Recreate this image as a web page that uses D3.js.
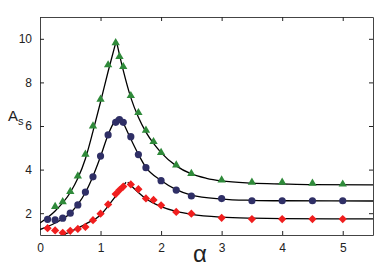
<!DOCTYPE html>
<meta charset="utf-8">
<style>
body { margin: 0; background: #fff; }
text { font-family: "Liberation Sans", Arial, sans-serif; }
</style>
<svg></svg>
<script src="https://d3js.org/d3.v7.min.js"></script>
<script>

// measured points (alpha, A_s)
var triX = [0.25,0.375,0.5,0.625,0.75,0.875,1.0,1.125,1.25,1.3125,1.375,1.5,1.625,1.75,1.875,2.0,2.25,2.5,3,3.5,4,4.5,5];
var triY = [2.30,2.52,2.99,3.70,4.70,6.00,7.22,8.80,9.82,9.18,8.72,7.39,6.61,5.80,5.28,4.78,4.21,3.82,3.52,3.42,3.42,3.37,3.33];

var dotX = [0.125,0.25,0.375,0.5,0.625,0.75,0.875,1.0,1.125,1.25,1.3125,1.375,1.5,1.625,1.75,2.0,2.25,2.5,3,3.5,4,4.5,5];
var dotY = [1.72,1.69,1.77,2.00,2.38,2.97,3.67,4.62,5.59,6.17,6.29,6.17,5.51,4.69,4.09,3.49,3.06,2.79,2.67,2.57,2.57,2.57,2.57];

var diaX = [0.125,0.25,0.375,0.5,0.625,0.75,0.875,1.0,1.125,1.25,1.3125,1.375,1.5,1.625,1.75,1.875,2.0,2.25,2.5,3,3.5,4,4.5,5];
var diaY = [1.31,1.21,1.10,1.19,1.28,1.37,1.68,1.98,2.40,2.88,3.06,3.22,3.32,3.10,2.68,2.61,2.36,2.06,1.98,1.79,1.73,1.73,1.73,1.73];

// fitted curves, two branches each
var fitTriLeftX  = [0,0.25,0.5,0.625,0.75,0.875,1.0,1.125,1.26];
var fitTriLeftY  = [1.55,2.10,2.95,3.60,4.50,5.75,7.10,8.50,9.92];
var fitTriRightX = [1.26,1.375,1.5,1.625,1.75,1.875,2.0,2.25,2.5,2.75,3,3.5,4,4.5,5.5];
var fitTriRightY = [9.92,8.55,7.30,6.40,5.72,5.20,4.78,4.17,3.80,3.60,3.48,3.38,3.34,3.31,3.30];

var fitDotLeftX  = [0,0.25,0.5,0.625,0.75,0.875,1.0,1.125,1.25,1.29];
var fitDotLeftY  = [1.25,1.55,2.00,2.40,2.95,3.70,4.60,5.60,6.30,6.40];
var fitDotRightX = [1.33,1.4,1.5,1.625,1.75,2.0,2.25,2.5,3,3.5,4,5.5];
var fitDotRightY = [6.40,6.00,5.40,4.70,4.10,3.50,3.08,2.83,2.65,2.59,2.57,2.56];

var fitDiaLeftX  = [0,0.25,0.375,0.5,0.75,1.0,1.125,1.25,1.42];
var fitDiaLeftY  = [0.55,0.80,0.98,1.15,1.50,1.92,2.33,2.78,3.42];
var fitDiaRightX = [1.45,1.625,1.75,2.0,2.25,2.5,3,3.5,4,5.5];
var fitDiaRightY = [3.42,2.95,2.66,2.30,2.08,1.95,1.82,1.77,1.75,1.74];

var xTicks = [0,1,2,3,4,5];
var yTicks = [2,4,6,8,10];

var W = 386, H = 270;
var svg = d3.select("svg").attr("width", W).attr("height", H);

var margin = {left: 40, right: 13, top: 17, bottom: 35};
var x = d3.scaleLinear().domain([0, 5.5]).range([margin.left, W - margin.right]);
var y = d3.scaleLinear().domain([1, 11]).range([H - margin.bottom, margin.top]);

svg.append("defs").append("clipPath").attr("id", "plot")
  .append("rect")
  .attr("x", x(0)).attr("y", y(11))
  .attr("width", x(5.5) - x(0)).attr("height", y(1) - y(11));

// axes, ticks pointing inward
svg.append("g").attr("transform", "translate(0," + y(1) + ")")
  .call(d3.axisBottom(x).tickValues(xTicks).tickSizeInner(-4).tickSizeOuter(0).tickPadding(8).tickFormat(d3.format("d")));
svg.append("g").attr("transform", "translate(0," + y(11) + ")")
  .call(d3.axisTop(x).tickValues(xTicks).tickSizeInner(-4).tickSizeOuter(0).tickFormat(""));
svg.append("g").attr("transform", "translate(" + x(0) + ",0)")
  .call(d3.axisLeft(y).tickValues(yTicks).tickSizeInner(-4).tickSizeOuter(0).tickPadding(8).tickFormat(d3.format("d")));
svg.append("g").attr("transform", "translate(" + x(5.5) + ",0)")
  .call(d3.axisRight(y).tickValues(yTicks).tickSizeInner(-4).tickSizeOuter(0).tickFormat(""));

svg.selectAll(".domain").attr("stroke", "#444").attr("stroke-width", 1);
svg.selectAll(".tick line").attr("stroke", "#222");
svg.selectAll(".tick text").attr("font-size", 12).attr("fill", "#222");

// fitted curves
var line = d3.line()
  .x(function(d) { return x(d[0]); })
  .y(function(d) { return y(d[1]); })
  .curve(d3.curveMonotoneX);

function zip(a, b) { return a.map(function(v, i) { return [v, b[i]]; }); }

var fits = [
  zip(fitTriLeftX, fitTriLeftY), zip(fitTriRightX, fitTriRightY),
  zip(fitDotLeftX, fitDotLeftY), zip(fitDotRightX, fitDotRightY),
  zip(fitDiaLeftX, fitDiaLeftY), zip(fitDiaRightX, fitDiaRightY)
];

svg.append("g").attr("clip-path", "url(#plot)")
  .selectAll("path")
  .data(fits)
  .enter().append("path")
  .attr("d", line)
  .attr("fill", "none")
  .attr("stroke", "#000")
  .attr("stroke-width", 1.3);

// markers
var marks = svg.append("g").attr("clip-path", "url(#plot)");

marks.selectAll(".tri")
  .data(zip(triX, triY))
  .enter().append("path")
  .attr("class", "tri")
  .attr("d", d3.symbol().type(d3.symbolTriangle).size(30))
  .attr("transform", function(d) { return "translate(" + x(d[0]) + "," + y(d[1]) + ")"; })
  .attr("fill", "#2f8a3a");

marks.selectAll(".dot")
  .data(zip(dotX, dotY))
  .enter().append("circle")
  .attr("class", "dot")
  .attr("cx", function(d) { return x(d[0]); })
  .attr("cy", function(d) { return y(d[1]); })
  .attr("r", 3.6)
  .attr("fill", "#2f2f66");

// square turned 45 degrees gives the wide diamond of the original
marks.selectAll(".dia")
  .data(zip(diaX, diaY))
  .enter().append("path")
  .attr("class", "dia")
  .attr("d", d3.symbol().type(d3.symbolSquare).size(34))
  .attr("transform", function(d) { return "translate(" + x(d[0]) + "," + y(d[1]) + ") rotate(45)"; })
  .attr("fill", "#f01e1e");

// axis titles
var ylab = svg.append("text").attr("x", 8).attr("y", 121).attr("font-size", 15).attr("fill", "#222");
ylab.append("tspan").text("A");
ylab.append("tspan").attr("dy", 4).attr("font-size", 11).text("s");

svg.append("text")
  .attr("x", 200).attr("y", 262)
  .attr("text-anchor", "middle")
  .attr("font-size", 24)
  .attr("font-family", "'DejaVu Serif', 'Liberation Serif', serif")
  .attr("fill", "#222")
  .text("α");

</script>
